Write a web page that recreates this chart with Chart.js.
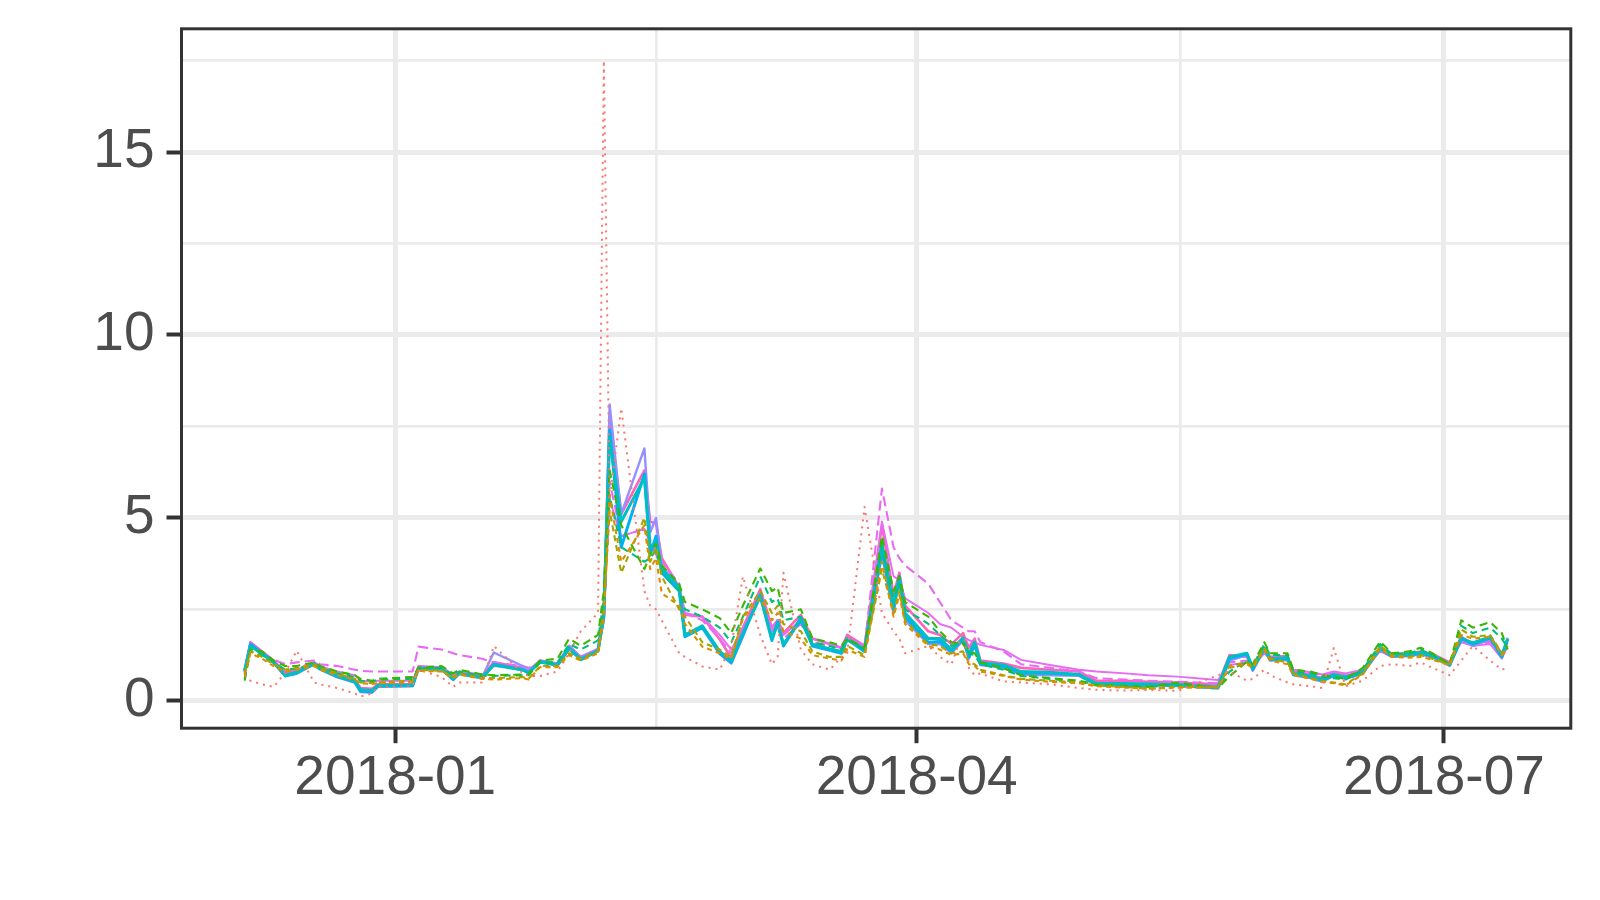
<!DOCTYPE html>
<html><head><meta charset="utf-8">
<script src="https://cdn.jsdelivr.net/npm/chart.js@4.4.1/dist/chart.umd.min.js"></script>
<style>html,body{margin:0;padding:0;background:#fff;overflow:hidden}canvas{display:block}</style>
</head><body>
<canvas id="c" width="1600" height="900"></canvas>
<script>
const dates = ["2017-12-06","2017-12-07","2017-12-09","2017-12-11","2017-12-13","2017-12-15","2017-12-18","2017-12-19","2017-12-22","2017-12-25",
"2017-12-26","2017-12-28","2017-12-29","2018-01-04","2018-01-05","2018-01-09","2018-01-11","2018-01-12","2018-01-16","2018-01-18",
"2018-01-23","2018-01-24","2018-01-26","2018-01-29","2018-01-31","2018-02-02","2018-02-05","2018-02-06","2018-02-07","2018-02-09",
"2018-02-13","2018-02-14","2018-02-15","2018-02-16","2018-02-19","2018-02-20","2018-02-23","2018-02-26","2018-02-28","2018-03-02",
"2018-03-05","2018-03-07","2018-03-08","2018-03-09","2018-03-12","2018-03-14","2018-03-17","2018-03-19","2018-03-20","2018-03-23",
"2018-03-26","2018-03-28","2018-03-29","2018-03-30","2018-04-03","2018-04-05","2018-04-07","2018-04-09","2018-04-10","2018-04-11",
"2018-04-12","2018-04-16","2018-04-19","2018-04-24","2018-04-29","2018-05-02","2018-05-07","2018-05-11","2018-05-16","2018-05-23",
"2018-05-25","2018-05-28","2018-05-29","2018-05-31","2018-06-01","2018-06-04","2018-06-05","2018-06-08","2018-06-10","2018-06-12",
"2018-06-14","2018-06-17","2018-06-20","2018-06-22","2018-06-25","2018-06-27","2018-06-29","2018-07-02","2018-07-04","2018-07-06",
"2018-07-09","2018-07-11","2018-07-12"];

const redDotted = [0.70,0.55,0.45,0.38,0.77,1.37,0.50,0.45,0.35,0.20,
0.12,0.20,0.38,0.40,0.85,0.65,0.38,0.50,0.50,1.50,
0.75,0.68,0.68,0.80,1.30,1.90,2.40,17.50,5.50,8.00,
3.00,2.60,2.50,2.20,1.30,1.20,0.94,0.85,1.50,3.40,
1.80,1.00,1.20,3.50,1.40,1.00,0.85,1.20,1.30,5.30,
2.40,1.90,1.70,1.30,1.50,1.20,1.00,1.90,0.90,0.70,
0.75,0.53,0.50,0.45,0.35,0.30,0.28,0.30,0.27,0.70,
0.80,0.55,0.60,0.85,0.70,0.50,0.45,0.40,0.35,1.44,
0.40,0.55,0.95,1.00,0.95,1.05,0.90,0.70,1.10,1.50,
1.10,0.85,0.90];

const orangeDashed = [0.70,1.30,1.15,0.95,0.80,0.85,0.95,0.85,0.70,0.58,
0.48,0.46,0.48,0.52,0.82,0.80,0.62,0.72,0.60,0.58,
0.62,0.58,0.92,0.92,1.25,1.10,1.30,2.30,5.60,3.80,
4.80,3.60,3.90,2.94,2.60,2.10,1.48,1.30,1.15,2.26,
2.80,2.20,2.40,1.90,1.70,1.25,1.15,1.10,1.40,1.20,
3.80,2.30,2.90,2.10,1.50,1.40,1.25,1.30,1.00,0.95,
0.80,0.68,0.58,0.52,0.48,0.40,0.36,0.33,0.36,0.36,
0.90,1.00,0.90,1.40,1.10,1.00,0.70,0.60,0.52,0.48,
0.42,0.72,1.45,1.20,1.18,1.20,1.12,0.98,1.80,1.70,
1.75,1.25,1.40];

const oliveDashed = [0.75,1.35,1.20,1.00,0.85,0.90,1.00,0.90,0.75,0.60,
0.50,0.48,0.50,0.55,0.85,0.82,0.65,0.75,0.62,0.62,
0.65,0.60,0.95,0.95,1.30,1.15,1.35,2.50,5.20,3.50,
5.00,3.80,4.20,3.40,2.50,2.30,1.60,1.40,1.20,2.30,
3.00,2.40,2.60,2.10,1.90,1.35,1.20,1.20,1.50,1.25,
3.60,2.40,3.00,2.20,1.55,1.50,1.30,1.35,1.05,1.00,
0.85,0.70,0.60,0.55,0.50,0.42,0.38,0.33,0.38,0.38,
0.95,1.05,0.95,1.45,1.15,1.05,0.75,0.62,0.55,0.50,
0.45,0.75,1.50,1.25,1.20,1.25,1.15,1.00,1.95,1.75,
1.80,1.30,1.45];

const greenDashed = [0.55,1.40,1.35,1.10,0.95,0.95,1.05,0.95,0.80,0.70,
0.60,0.55,0.60,0.65,0.90,0.95,0.75,0.85,0.72,0.70,
0.72,0.72,1.10,1.15,1.70,1.50,1.80,3.00,6.30,4.80,
3.60,4.00,4.30,3.70,3.20,2.70,2.50,2.26,1.85,2.60,
3.62,3.00,3.10,2.40,2.50,1.70,1.60,1.50,1.70,1.45,
4.50,3.00,3.40,2.70,2.30,1.90,1.60,1.55,1.35,1.30,
1.05,0.89,0.70,0.62,0.55,0.44,0.40,0.38,0.50,0.35,
0.67,1.07,1.00,1.60,1.30,1.30,0.85,0.80,0.70,0.65,
0.60,0.90,1.62,1.30,1.35,1.45,1.30,1.00,2.20,2.00,
2.15,1.85,1.40];

const tealDashed = [0.60,1.35,1.25,1.05,0.85,0.88,1.00,0.90,0.75,0.65,
0.55,0.52,0.58,0.60,0.88,0.90,0.70,0.80,0.68,0.68,
0.70,0.70,1.05,1.05,1.55,1.40,1.65,2.80,5.60,4.20,
3.80,3.90,4.10,3.50,3.00,2.50,2.30,2.00,1.60,2.30,
3.40,2.70,2.80,2.20,2.30,1.60,1.50,1.40,1.65,1.40,
4.20,2.80,3.20,2.50,2.10,1.80,1.50,1.60,1.30,1.25,
1.00,0.85,0.68,0.60,0.52,0.42,0.38,0.37,0.45,0.36,
0.80,1.10,0.95,1.55,1.25,1.25,0.80,0.75,0.65,0.62,
0.58,0.85,1.55,1.28,1.30,1.40,1.25,1.00,2.05,1.85,
2.00,1.70,1.45];

const cyanSolid = [0.82,1.50,1.28,1.05,0.70,0.78,1.00,0.87,0.67,0.54,
0.30,0.28,0.42,0.43,0.90,0.87,0.60,0.75,0.64,0.98,
0.84,0.78,1.06,0.97,1.42,1.14,1.36,2.40,7.20,4.90,
6.10,4.20,4.30,3.60,3.10,1.80,2.05,1.35,1.10,1.85,
2.85,1.70,2.10,1.55,2.20,1.55,1.42,1.35,1.70,1.40,
4.30,2.60,3.35,2.40,1.70,1.70,1.40,1.72,1.28,1.60,
1.05,0.98,0.80,0.78,0.72,0.48,0.47,0.46,0.44,0.38,
1.20,1.30,0.90,1.42,1.15,1.18,0.75,0.68,0.58,0.72,
0.65,0.78,1.42,1.25,1.27,1.32,1.25,1.00,1.70,1.58,
1.75,1.25,1.68];

const blueSolid = [0.80,1.55,1.30,1.07,0.68,0.76,1.02,0.88,0.66,0.52,
0.26,0.25,0.40,0.41,0.88,0.86,0.58,0.74,0.62,1.00,
0.85,0.76,1.07,0.98,1.45,1.12,1.38,2.30,7.40,4.20,
6.20,4.00,4.50,3.50,3.00,1.75,2.00,1.30,1.05,1.80,
2.90,1.65,2.15,1.50,2.25,1.50,1.38,1.30,1.68,1.35,
4.10,2.50,3.40,2.30,1.60,1.62,1.35,1.70,1.20,1.55,
1.00,0.94,0.76,0.75,0.71,0.45,0.45,0.45,0.42,0.35,
1.16,1.28,0.86,1.45,1.12,1.15,0.72,0.64,0.55,0.70,
0.62,0.76,1.45,1.22,1.25,1.30,1.22,0.98,1.72,1.55,
1.72,1.20,1.70];

const violetSolid = [0.78,1.55,1.28,1.03,0.68,0.74,1.00,0.86,0.64,0.50,
0.24,0.22,0.38,0.40,0.90,0.88,0.60,0.75,0.65,1.32,
0.95,0.80,1.10,1.00,1.50,1.18,1.40,2.20,8.10,5.10,
6.90,4.60,5.00,3.70,3.10,1.80,2.00,1.28,1.02,1.75,
2.95,1.70,2.20,1.50,2.30,1.52,1.40,1.30,1.70,1.35,
4.00,2.40,3.30,2.20,1.55,1.55,1.30,1.65,1.15,1.50,
0.98,0.90,0.72,0.70,0.68,0.44,0.44,0.43,0.40,0.34,
1.10,1.25,0.82,1.40,1.10,1.12,0.70,0.62,0.52,0.68,
0.60,0.74,1.40,1.20,1.22,1.28,1.20,0.95,1.68,1.50,
1.68,1.18,1.72];

const magentaDashed = [0.75,1.55,1.30,1.12,1.00,1.05,1.10,1.00,0.95,0.85,
0.82,0.80,0.80,0.80,1.48,1.40,1.30,1.25,1.15,1.05,
0.95,0.90,1.05,1.00,1.45,1.20,1.40,2.20,6.00,4.50,
4.70,4.40,4.10,3.80,3.20,2.40,2.20,1.70,1.30,1.90,
2.90,1.90,2.10,1.70,2.10,1.60,1.50,1.45,1.70,1.45,
5.80,4.20,3.90,3.70,3.20,2.70,2.20,2.00,1.90,1.90,
1.60,1.35,1.00,0.90,0.80,0.62,0.58,0.55,0.52,0.48,
1.05,1.10,0.90,1.35,1.15,1.10,0.78,0.72,0.68,0.75,
0.70,0.80,1.40,1.20,1.25,1.30,1.22,1.00,1.65,1.50,
1.60,1.22,1.50];

const magentaSolid = [0.80,1.50,1.30,1.10,0.80,0.85,1.05,0.95,0.80,0.70,
0.55,0.52,0.55,0.55,0.95,0.92,0.72,0.80,0.72,0.95,
0.90,0.85,1.05,1.00,1.40,1.20,1.40,2.30,5.50,4.50,
4.70,4.30,4.00,3.60,3.00,2.40,2.30,1.80,1.40,2.00,
2.80,2.00,2.20,1.80,2.20,1.70,1.55,1.45,1.75,1.50,
4.90,3.40,3.30,2.80,2.40,2.10,2.00,1.75,1.66,1.60,
1.53,1.39,1.12,0.98,0.85,0.80,0.75,0.70,0.66,0.57,
0.98,1.05,0.95,1.30,1.15,1.15,0.85,0.78,0.72,0.80,
0.75,0.85,1.35,1.20,1.25,1.25,1.20,1.05,1.60,1.50,
1.55,1.15,1.50];

const pinkSolid = [0.85,1.60,1.35,1.10,0.75,0.80,1.05,0.92,0.72,0.58,
0.35,0.33,0.45,0.46,0.92,0.90,0.64,0.78,0.68,1.05,
0.90,0.82,1.10,1.02,1.50,1.20,1.42,2.50,7.80,5.10,
6.30,4.90,4.85,3.90,3.10,2.35,2.30,1.68,1.17,2.00,
3.05,2.00,2.20,1.85,2.35,1.70,1.55,1.45,1.80,1.50,
4.80,2.90,3.50,2.60,1.90,1.80,1.55,1.85,1.45,1.70,
1.10,1.02,0.90,0.85,0.80,0.55,0.55,0.52,0.50,0.45,
1.25,1.20,0.95,1.40,1.20,1.22,0.80,0.72,0.62,0.75,
0.68,0.82,1.45,1.28,1.30,1.35,1.28,1.05,1.75,1.55,
1.65,1.30,1.60];

const xTickDates = ["2018-01-01","2018-04-01","2018-07-01"];
const xTickLabels = ["2018-01","2018-04","2018-07"];
const yTickValues = [0,5,10,15];
const yTickLabels = ["0","5","10","15"];

const seriesDefs = [
  {data: redDotted, color: "#F8766D", dash: [2,5], width: 2},
  {data: orangeDashed, color: "#D89000", dash: [5,4], width: 2.1},
  {data: oliveDashed, color: "#A3A500", dash: [6,4], width: 2.1},
  {data: greenDashed, color: "#39B600", dash: [8,5], width: 2.1},
  {data: tealDashed, color: "#00BF7D", dash: [7,5], width: 2.1},
  {data: cyanSolid, color: "#00BFC4", dash: [], width: 3},
  {data: blueSolid, color: "#00B0F6", dash: [], width: 3},
  {data: violetSolid, color: "#9590FF", dash: [], width: 2.4},
  {data: magentaDashed, color: "#E76BF3", dash: [10,5], width: 2.1},
  {data: magentaSolid, color: "#E76BF3", dash: [], width: 1.9},
  {data: pinkSolid, color: "#FF62BC", dash: [], width: 2.6}
];

const dayNum = s => Date.parse(s + "T00:00:00Z") / 86400000;
const xs = dates.map(dayNum);
const xMajor = xTickDates.map(dayNum);
const xMinor = [];
for (let i = 0; i < xMajor.length - 1; i++) xMinor.push((xMajor[i] + xMajor[i+1]) / 2);
const yMinor = [];
for (let i = 0; i < yTickValues.length; i++) yMinor.push(yTickValues[i] + 2.5);

const allY = seriesDefs.flatMap(s => s.data);
const yLo = Math.min(...allY), yHi = Math.max(...allY);
const xLo = Math.min(...xs), xHi = Math.max(...xs);
const ex = 0.05 * (xHi - xLo), ey = 0.05 * (yHi - yLo);

const isMajorX = v => xMajor.some(m => Math.abs(m - v) < 1e-6);
const isMajorY = v => yTickValues.some(m => Math.abs(m - v) < 1e-6);

const datasets = seriesDefs.map(s => ({
  data: s.data.map((v, i) => ({x: xs[i], y: v})),
  borderColor: s.color,
  borderWidth: s.width,
  borderDash: s.dash,
  borderCapStyle: 'butt',
  borderJoinStyle: 'round',
  pointRadius: 0,
  tension: 0,
  fill: false
}));

const panelBorder = {
  id: 'panelBorder',
  afterDatasetsDraw(chart) {
    const a = chart.chartArea, c = chart.ctx;
    c.save();
    c.strokeStyle = '#333333';
    c.lineWidth = 3;
    c.strokeRect(a.left, a.top, a.right - a.left, a.bottom - a.top);
    c.restore();
  }
};

const FONT = {family: "'Liberation Sans', Arial, Helvetica, sans-serif", size: 55};

new Chart(document.getElementById('c'), {
  type: 'line',
  data: {datasets},
  plugins: [panelBorder],
  options: {
    responsive: false,
    animation: false,
    devicePixelRatio: 1,
    layout: {padding: {top: 28.8, right: 29.2, left: 0, bottom: 0}},
    plugins: {legend: {display: false}, tooltip: {enabled: false}},
    scales: {
      x: {
        type: 'linear',
        min: xLo - ex, max: xHi + ex,
        afterBuildTicks: sc => { sc.ticks = [...xMajor, ...xMinor].sort((a,b)=>a-b).map(v => ({value: v})); },
        afterFit: sc => { sc.height = 171.8; sc.paddingLeft = 0; sc.paddingRight = 0; },
        border: {display: false},
        grid: {
          color: '#EBEBEB',
          lineWidth: c => isMajorX(c.tick.value) ? 5 : 2.7,
          drawTicks: true,
          tickLength: 15,
          tickColor: c => isMajorX(c.tick.value) ? '#333333' : 'rgba(0,0,0,0)',
          tickWidth: c => isMajorX(c.tick.value) ? 4 : 0
        },
        ticks: {
          autoSkip: false, maxRotation: 0, minRotation: 0,
          padding: 3,
          color: '#4D4D4D', font: FONT,
          callback: v => { const i = xMajor.findIndex(m => Math.abs(m - v) < 1e-6); return i >= 0 ? xTickLabels[i] : ''; }
        }
      },
      y: {
        type: 'linear',
        min: yLo - ey, max: yHi + ey,
        afterBuildTicks: sc => { sc.ticks = [...yTickValues, ...yMinor].sort((a,b)=>a-b).map(v => ({value: v})); },
        afterFit: sc => { sc.width = 181.5; sc.paddingTop = 0; sc.paddingBottom = 0; },
        border: {display: false},
        grid: {
          color: '#EBEBEB',
          lineWidth: c => isMajorY(c.tick.value) ? 5 : 2.7,
          drawTicks: true,
          tickLength: 15,
          tickColor: c => isMajorY(c.tick.value) ? '#333333' : 'rgba(0,0,0,0)',
          tickWidth: c => isMajorY(c.tick.value) ? 4 : 0
        },
        ticks: {
          autoSkip: false,
          padding: 12,
          color: '#4D4D4D', font: FONT,
          callback: v => { const i = yTickValues.findIndex(m => Math.abs(m - v) < 1e-6); return i >= 0 ? yTickLabels[i] : ''; }
        }
      }
    }
  }
});
</script>
</body></html>
